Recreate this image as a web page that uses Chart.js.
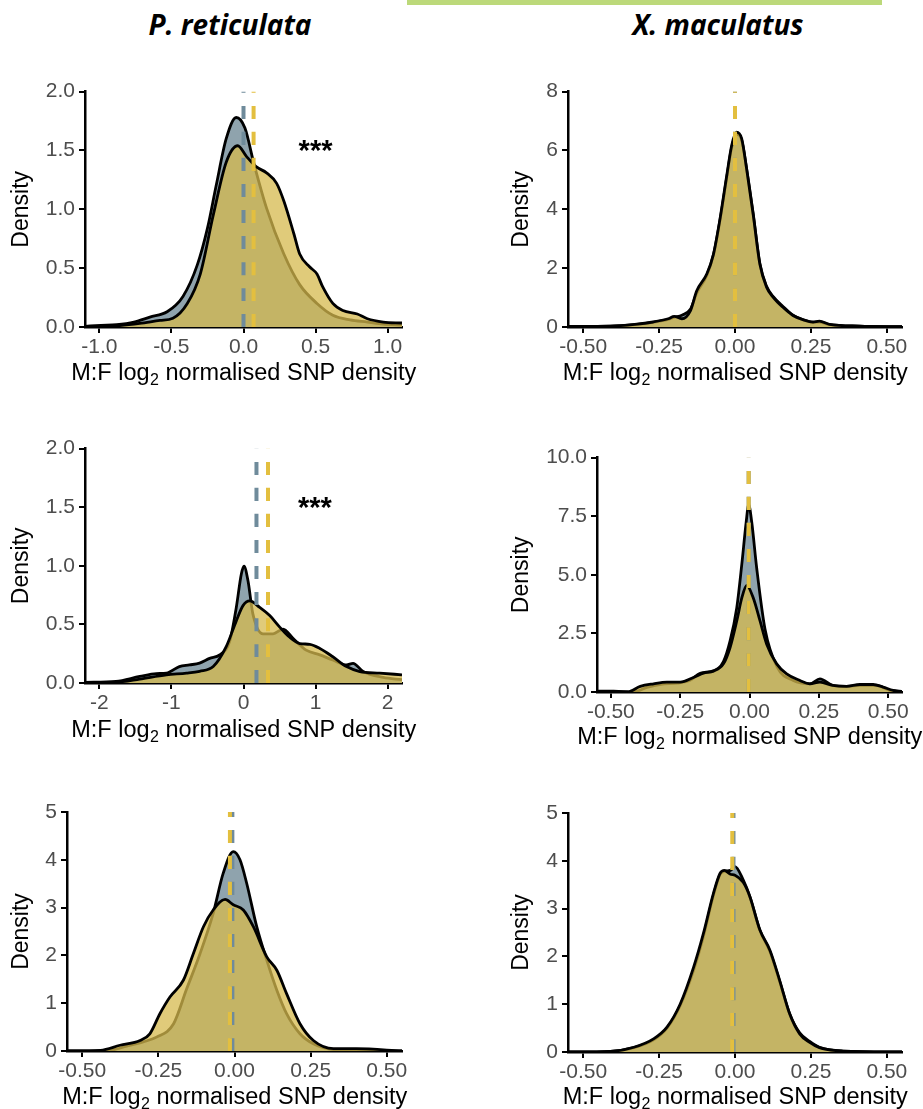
<!DOCTYPE html>
<html>
<head>
<meta charset="utf-8">
<script src="https://cdn.jsdelivr.net/npm/chart.js@4.4.1/dist/chart.umd.min.js"></script>
<style>
  html, body { margin: 0; padding: 0; background: #fff; overflow: hidden; }
  body { width: 923px; height: 1109px; position: relative; }
  .bar { position: absolute; left: 407px; top: 0; width: 475px; height: 5px; background: #bcd97a; }
  .species { position: absolute; top: 5px; line-height: 38px; font-family: "Open Sans", sans-serif; font-weight: 700;
             font-style: italic; font-size: 28px; color: #000; transform: translateX(-50%); white-space: nowrap; }
  canvas { position: absolute; }
</style>
</head>
<body>
<div class="bar"></div>
<div class="species" style="left:230px">P. reticulata</div>
<div class="species" style="left:718px">X. maculatus</div>
<canvas id="c1"></canvas>
<canvas id="c2"></canvas>
<canvas id="c3"></canvas>
<canvas id="c4"></canvas>
<canvas id="c5"></canvas>
<canvas id="c6"></canvas>
<script>
// ---- data ----
// top left (P. reticulata)
const p1GreyX = [-1.1, -0.99, -0.88, -0.76, -0.65, -0.53, -0.42, -0.32, -0.25, -0.19, -0.12, -0.05, 0.01, 0.07, 0.16, 0.28, 0.39, 0.51, 0.62, 0.74, 0.86, 0.97, 1.1];
const p1GreyY = [0.006, 0.014, 0.02, 0.042, 0.084, 0.13, 0.26, 0.53, 0.84, 1.2, 1.6, 1.78, 1.69, 1.40, 1.01, 0.62, 0.36, 0.2, 0.1, 0.06, 0.042, 0.025, 0.017];
const p1GoldX = [-1.1, -0.88, -0.72, -0.58, -0.49, -0.39, -0.3, -0.21, -0.12, -0.04, 0.02, 0.09, 0.16, 0.23, 0.28, 0.35, 0.39, 0.46, 0.51, 0.55, 0.62, 0.69, 0.79, 0.86, 0.97, 1.1];
const p1GoldY = [0.003, 0.01, 0.03, 0.056, 0.075, 0.2, 0.45, 0.95, 1.4, 1.54, 1.45, 1.36, 1.31, 1.22, 1.07, 0.79, 0.62, 0.51, 0.45, 0.34, 0.2, 0.14, 0.11, 0.07, 0.042, 0.034];
const p1Means = [0.0, 0.07];   // grey, gold

// top right (X. maculatus)
const p2X = [-0.55, -0.41, -0.33, -0.27, -0.22, -0.2, -0.175, -0.147, -0.126, -0.093, -0.071, -0.049, -0.027, -0.011, 0.005, 0.022, 0.038, 0.06, 0.082, 0.104, 0.126, 0.158, 0.191, 0.224, 0.257, 0.278, 0.311, 0.41, 0.55];
const p2GreyY = [0.02, 0.03, 0.08, 0.16, 0.26, 0.33, 0.4, 0.6, 1.15, 1.75, 2.45, 3.65, 5.1, 6.1, 6.55, 6.35, 5.4, 3.85, 2.15, 1.38, 1.03, 0.7, 0.4, 0.24, 0.16, 0.17, 0.08, 0.03, 0.01];
const p2GoldY = [0.02, 0.03, 0.09, 0.17, 0.28, 0.36, 0.28, 0.55, 1.23, 1.8, 2.47, 3.7, 5.16, 6.17, 6.62, 6.4, 5.39, 3.81, 2.13, 1.35, 1.01, 0.67, 0.39, 0.25, 0.17, 0.2, 0.09, 0.03, 0.01];
const p2Means = [0.0, 0.0];

// middle left
const p3GreyX = [-2.2, -1.77, -1.44, -1.21, -1.07, -0.89, -0.75, -0.61, -0.47, -0.33, -0.19, -0.1, -0.03, 0.007, 0.063, 0.13, 0.27, 0.41, 0.55, 0.69, 0.87, 1.06, 1.24, 1.43, 1.52, 1.66, 1.94, 2.2];
const p3GreyY = [0.006, 0.014, 0.056, 0.08, 0.084, 0.14, 0.154, 0.17, 0.21, 0.24, 0.36, 0.645, 0.93, 0.996, 0.87, 0.59, 0.42, 0.42, 0.46, 0.38, 0.28, 0.24, 0.196, 0.154, 0.168, 0.098, 0.048, 0.028];
const p3GoldX = [-2.2, -1.77, -1.44, -1.07, -0.79, -0.61, -0.42, -0.24, -0.1, -0.007, 0.086, 0.225, 0.364, 0.503, 0.642, 0.78, 0.92, 1.06, 1.24, 1.43, 1.615, 1.89, 2.2];
const p3GoldY = [0.0, 0.006, 0.034, 0.07, 0.084, 0.1, 0.14, 0.31, 0.53, 0.66, 0.70, 0.645, 0.575, 0.477, 0.39, 0.337, 0.33, 0.295, 0.224, 0.14, 0.098, 0.084, 0.07];
const p3Means = [0.18, 0.34];

// middle right
const p4GreyX = [-0.55, -0.49, -0.42, -0.37, -0.32, -0.26, -0.214, -0.178, -0.13, -0.094, -0.07, -0.046, -0.028, -0.012, -0.003, 0.008, 0.026, 0.056, 0.1, 0.158, 0.218, 0.254, 0.3, 0.35, 0.4, 0.458, 0.506, 0.55];
const p4GreyY = [0.04, 0.04, 0.0, 0.2, 0.33, 0.38, 0.5, 0.8, 0.9, 1.3, 2.18, 3.59, 5.42, 7.25, 7.99, 7.25, 5.28, 2.68, 1.06, 0.49, 0.35, 0.56, 0.28, 0.24, 0.28, 0.28, 0.07, 0.0];
const p4GoldX = [-0.55, -0.44, -0.394, -0.346, -0.298, -0.25, -0.2, -0.166, -0.13, -0.094, -0.07, -0.046, -0.028, -0.01, 0.014, 0.038, 0.062, 0.098, 0.134, 0.182, 0.218, 0.254, 0.3, 0.35, 0.398, 0.446, 0.482, 0.518, 0.55];
const p4GoldY = [0.0, 0.0, 0.24, 0.35, 0.42, 0.42, 0.63, 0.8, 0.89, 1.2, 1.9, 3.03, 4.0, 4.55, 4.0, 3.03, 2.04, 1.2, 0.77, 0.49, 0.35, 0.42, 0.28, 0.24, 0.32, 0.32, 0.21, 0.07, 0.03];
const p4Means = [-0.003, -0.003];

// bottom left
const p5GreyX = [-0.55, -0.41, -0.354, -0.3, -0.256, -0.2, -0.157, -0.113, -0.07, -0.037, -0.004, 0.018, 0.04, 0.073, 0.106, 0.139, 0.171, 0.215, 0.259, 0.325, 0.55];
const p5GreyY = [0, 0.014, 0.1, 0.19, 0.29, 0.57, 1.3, 2.04, 2.88, 3.72, 4.17, 4.0, 3.51, 2.6, 1.9, 1.27, 0.78, 0.36, 0.15, 0.03, 0];
const p5GoldX = [-0.55, -0.44, -0.376, -0.31, -0.278, -0.245, -0.212, -0.168, -0.135, -0.102, -0.07, -0.031, -0.004, 0.029, 0.062, 0.106, 0.139, 0.171, 0.215, 0.259, 0.325, 0.4, 0.55];
const p5GoldY = [0, 0.014, 0.12, 0.22, 0.36, 0.78, 1.13, 1.48, 2.04, 2.6, 2.95, 3.17, 3.06, 2.95, 2.6, 1.97, 1.69, 1.2, 0.57, 0.22, 0.05, 0.05, 0];
const p5Means = [-0.007, -0.015];

// bottom right
const p6X = [-0.55, -0.41, -0.333, -0.267, -0.224, -0.18, -0.136, -0.104, -0.071, -0.049, -0.035, -0.015, 0.0, 0.027, 0.049, 0.082, 0.115, 0.147, 0.18, 0.213, 0.246, 0.278, 0.355, 0.55];
const p6GreyY = [0, 0.014, 0.09, 0.26, 0.5, 0.98, 1.72, 2.42, 3.28, 3.72, 3.78, 3.8, 3.88, 3.6, 3.25, 2.55, 2.1, 1.48, 0.8, 0.4, 0.22, 0.1, 0.02, 0];
const p6GoldY = [0, 0.014, 0.1, 0.28, 0.52, 1.01, 1.78, 2.48, 3.32, 3.74, 3.8, 3.72, 3.7, 3.55, 3.25, 2.55, 2.13, 1.5, 0.8, 0.38, 0.2, 0.09, 0.02, 0];
const p6Means = [-0.005, -0.009];

// ticks
const ticksWide = [-1, -0.5, 0, 0.5, 1];
const ticksWider = [-2, -1, 0, 1, 2];
const ticksNarrow = [-0.5, -0.25, 0, 0.25, 0.5];
const yTicks2 = [0, 0.5, 1, 1.5, 2];
const yTicks8 = [0, 2, 4, 6, 8];
const yTicks10 = [0, 2.5, 5, 7.5, 10];
const yTicks5 = [0, 1, 2, 3, 4, 5];

// x title is drawn in three pieces so the "2" can be a real subscript
const xTitleParts = ['M:F log', '2', ' normalised SNP density'];
const yTitle = 'Density';
const stars = '***';

const FONT = '"Liberation Sans", Arial, sans-serif';
Chart.defaults.font.family = FONT;

const panels = [
  { id: 'c1', x: 0, y: 75, w: 430, h: 310, area: { l: 85, r: 402, t: 89, b: 327 },
    xMin: -1.1, xMax: 1.1, yMax: 2, xTicks: ticksWide, yTicks: yTicks2, xDec: 1, yDec: 1,
    greyX: p1GreyX, greyY: p1GreyY, goldX: p1GoldX, goldY: p1GoldY, means: p1Means, star: [0.5, 1.54] },
  { id: 'c2', x: 500, y: 75, w: 423, h: 310, area: { l: 568, r: 902, t: 89, b: 327 },
    xMin: -0.55, xMax: 0.55, yMax: 8, xTicks: ticksNarrow, yTicks: yTicks8, xDec: 2, yDec: 0,
    greyX: p2X, greyY: p2GreyY, goldX: p2X, goldY: p2GoldY, means: p2Means, star: null },
  { id: 'c3', x: 0, y: 432, w: 430, h: 310, area: { l: 85, r: 402, t: 446, b: 683 },
    xMin: -2.2, xMax: 2.2, yMax: 2, xTicks: ticksWider, yTicks: yTicks2, xDec: 0, yDec: 1,
    greyX: p3GreyX, greyY: p3GreyY, goldX: p3GoldX, goldY: p3GoldY, means: p3Means, star: [0.99, 1.54] },
  { id: 'c4', x: 500, y: 441, w: 423, h: 308, area: { l: 597, r: 902, t: 455, b: 692 },
    xMin: -0.55, xMax: 0.55, yMax: 10, xTicks: ticksNarrow, yTicks: yTicks10, xDec: 2, yDec: 1,
    greyX: p4GreyX, greyY: p4GreyY, goldX: p4GoldX, goldY: p4GoldY, means: p4Means, star: null },
  { id: 'c5', x: 0, y: 795, w: 430, h: 314, area: { l: 67, r: 402, t: 812, b: 1051 },
    xMin: -0.55, xMax: 0.55, yMax: 5, xTicks: ticksNarrow, yTicks: yTicks5, xDec: 2, yDec: 0,
    greyX: p5GreyX, greyY: p5GreyY, goldX: p5GoldX, goldY: p5GoldY, means: p5Means, star: null },
  { id: 'c6', x: 500, y: 795, w: 423, h: 314, area: { l: 568, r: 902, t: 813, b: 1052 },
    xMin: -0.55, xMax: 0.55, yMax: 5, xTicks: ticksNarrow, yTicks: yTicks5, xDec: 2, yDec: 0,
    greyX: p6X, greyY: p6GreyY, goldX: p6X, goldY: p6GoldY, means: p6Means, star: null }
];

const GREY_FILL = 'rgb(143,163,173)';
const GOLD_FILL = 'rgba(214,186,78,0.75)';
const GREY_DASH = '#6f8b9b';
const GOLD_DASH = '#e3bf3f';

function toPoints(xs, ys) {
  return xs.map((x, i) => ({ x: x, y: ys[i] }));
}

// "***" placed in data units, plus the x-axis title with a subscript
const textPlugin = {
  id: 'extraText',
  afterDatasetsDraw(chart, args, opts) {
    if (!opts.at) return;
    const ctx = chart.ctx;
    const px = chart.scales.x.getPixelForValue(opts.at[0]);
    const py = chart.scales.y.getPixelForValue(opts.at[1]);
    ctx.save();
    ctx.font = 'bold 29px ' + FONT;
    ctx.fillStyle = '#000';
    ctx.textAlign = 'center';
    ctx.textBaseline = 'alphabetic';
    const m = ctx.measureText(stars);
    ctx.fillText(stars, px, py + (m.actualBoundingBoxAscent - m.actualBoundingBoxDescent) / 2);
    ctx.restore();
  },
  afterDraw(chart) {
    const ctx = chart.ctx;
    const xs = chart.scales.x;
    const main = '23.5px ' + FONT, sub = '16px ' + FONT;
    ctx.save();
    ctx.fillStyle = '#000';
    ctx.textBaseline = 'alphabetic';
    ctx.textAlign = 'left';
    ctx.font = main;
    const w0 = ctx.measureText(xTitleParts[0]).width;
    const w2 = ctx.measureText(xTitleParts[2]).width;
    ctx.font = sub;
    const w1 = ctx.measureText(xTitleParts[1]).width;
    const cx = (chart.chartArea.left + chart.chartArea.right) / 2;
    const base = xs.bottom - 5;
    let x0 = cx - (w0 + w1 + w2) / 2;
    ctx.font = main;
    ctx.fillText(xTitleParts[0], x0, base);
    ctx.font = sub;
    ctx.fillText(xTitleParts[1], x0 + w0 + 0.5, base + 5);
    ctx.font = main;
    ctx.fillText(xTitleParts[2], x0 + w0 + w1 + 0.5, base);
    ctx.restore();
  }
};

function axisStyle() {
  return {
    grid: { display: true, drawOnChartArea: false, drawTicks: true, tickLength: 6, color: '#000', lineWidth: 2, tickColor: '#000', tickWidth: 2 },
    border: { display: true, color: '#000', width: 2.5 }
  };
}

panels.forEach(p => {
  const c = document.getElementById(p.id);
  c.width = p.w; c.height = p.h;
  c.style.left = p.x + 'px'; c.style.top = p.y + 'px';
  c.style.width = p.w + 'px'; c.style.height = p.h + 'px';

  const xs = axisStyle(), ys = axisStyle();

  new Chart(c, {
    type: 'line',
    data: {
      datasets: [
        { label: 'gold mean', data: toPoints([p.means[1], p.means[1]], [0, p.yMax]), borderColor: GOLD_DASH, borderWidth: 4, borderDash: [13, 13], fill: false, order: 0 },
        { label: 'grey mean', data: toPoints([p.means[0], p.means[0]], [0, p.yMax]), borderColor: GREY_DASH, borderWidth: 4, borderDash: [13, 13], fill: false, order: 1 },
        { label: 'gold', data: toPoints(p.goldX, p.goldY), borderColor: '#000', borderWidth: 2.8, backgroundColor: GOLD_FILL, fill: 'origin', order: 2 },
        { label: 'grey', data: toPoints(p.greyX, p.greyY), borderColor: '#000', borderWidth: 2.8, backgroundColor: GREY_FILL, fill: 'origin', order: 3 }
      ]
    },
    options: {
      responsive: false,
      animation: false,
      layout: { padding: { left: 0, top: p.area.t - p.y, right: p.x + p.w - p.area.r, bottom: 0 } },
      elements: { point: { radius: 0 }, line: { cubicInterpolationMode: 'monotone' } },
      plugins: { legend: { display: false }, tooltip: { enabled: false }, extraText: { at: p.star } },
      scales: {
        x: Object.assign(xs, {
          type: 'linear', min: p.xMin, max: p.xMax,
          afterBuildTicks: s => { s.ticks = p.xTicks.map(v => ({ value: v })); },
          afterFit: s => { s.height = p.y + p.h - p.area.b; },
          ticks: { color: '#4d4d4d', font: { size: 21 }, padding: 2, maxRotation: 0, autoSkip: false,
                   callback: v => Number(v).toFixed(p.xDec) },
          title: { display: false }
        }),
        y: Object.assign(ys, {
          type: 'linear', min: 0, max: p.yMax,
          afterBuildTicks: s => { s.ticks = p.yTicks.map(v => ({ value: v })); },
          afterFit: s => { s.width = p.area.l - p.x; },
          ticks: { color: '#4d4d4d', font: { size: 21 }, padding: 4, autoSkip: false,
                   callback: v => Number(v).toFixed(p.yDec) },
          title: { display: true, text: yTitle, color: '#000', font: { size: 23 }, padding: { top: 8, bottom: 0 } }
        })
      }
    },
    plugins: [textPlugin]
  });
});
</script>
</body>
</html>
